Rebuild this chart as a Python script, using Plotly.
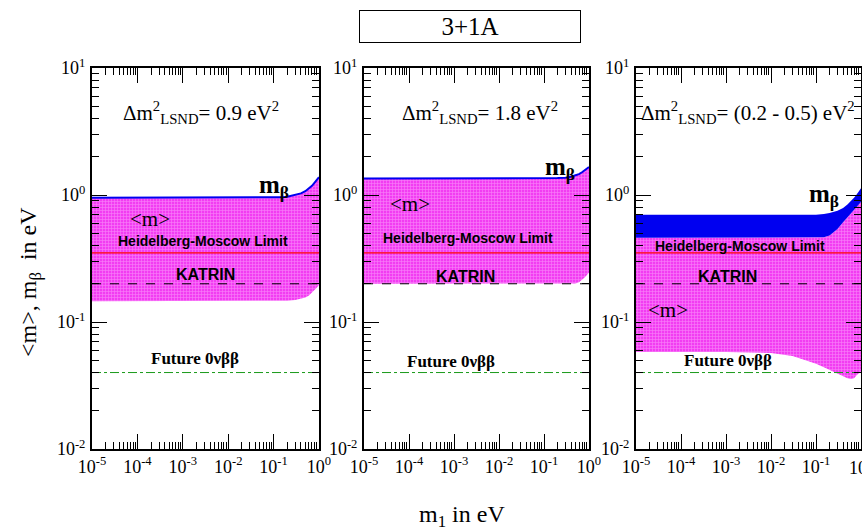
import plotly.graph_objects as go

# ---- data -------------------------------------------------------------
# lightest neutrino mass grid (eV)
m1_grid = [1e-5, 1e-4, 1e-3, 1e-2, 0.03, 0.05, 0.1, 0.15, 0.2, 0.3, 0.4,
           0.5, 0.6, 0.7, 0.8, 0.9, 1.0]

# panel A: dm2_LSND = 0.9 eV^2
mbeta_a = [0.95, 0.95, 0.95, 0.95, 0.95, 0.95, 0.955, 0.96, 0.97, 1.0, 1.03,
           1.07, 1.12, 1.18, 1.25, 1.31, 1.38]
mee_low_a = [0.146, 0.146, 0.146, 0.146, 0.146, 0.146, 0.146, 0.146, 0.147,
             0.149, 0.152, 0.156, 0.162, 0.170, 0.178, 0.187, 0.196]

# panel B: dm2_LSND = 1.8 eV^2
mbeta_b = [1.35, 1.35, 1.35, 1.35, 1.35, 1.35, 1.35, 1.355, 1.36, 1.37, 1.39,
           1.43, 1.46, 1.51, 1.56, 1.61, 1.66]
mee_low_b = [0.2, 0.2, 0.2, 0.2, 0.2, 0.2, 0.2, 0.2, 0.2, 0.2, 0.2,
             0.201, 0.206, 0.214, 0.224, 0.234, 0.245]

# panel C: dm2_LSND = (0.2 - 0.5) eV^2
mbeta_hi_c = [0.70, 0.70, 0.70, 0.70, 0.70, 0.70, 0.70, 0.71, 0.72, 0.75, 0.79,
              0.84, 0.89, 0.95, 1.01, 1.07, 1.13]
mbeta_lo_c = [0.46, 0.46, 0.46, 0.46, 0.46, 0.46, 0.46, 0.465, 0.48, 0.54, 0.61,
              0.67, 0.72, 0.77, 0.81, 0.85, 0.88]
mee_low_c = [0.058, 0.058, 0.058, 0.057, 0.054, 0.051, 0.047, 0.044, 0.042,
             0.039, 0.037, 0.036, 0.0355, 0.036, 0.038, 0.040, 0.041]

# experimental limits / sensitivities (eV)
hm_limit = 0.35
katrin_limit = 0.2
future_limit = 0.04
limit_x = [1e-5, 1.0]

x_tickvals = [1e-5, 1e-4, 1e-3, 1e-2, 1e-1, 1.0]
x_ticktext = ["10<sup>-5</sup>", "10<sup>-4</sup>", "10<sup>-3</sup>",
              "10<sup>-2</sup>", "10<sup>-1</sup>", "10<sup>0</sup>"]
y_tickvals = [1e-2, 1e-1, 1.0, 10.0]
y_ticktext = ["10<sup>-2</sup>", "10<sup>-1</sup>", "10<sup>0</sup>", "10<sup>1</sup>"]

panel_labels = ["0.9 eV<sup>2</sup>", "1.8 eV<sup>2</sup>", "(0.2 - 0.5) eV<sup>2</sup>"]

# ---- styling ----------------------------------------------------------
W, H = 862, 532
SERIF = "Liberation Serif"
SANS = "Liberation Sans"
MAGENTA = "#f23cf2"
BLUE = "#0000f0"
band_pattern = dict(shape="+", size=3, solidity=0.35, bgcolor=MAGENTA, fgcolor="#ffc8ff")

# pixel extents of the three panels
px_left = [92, 364, 636]
px_right = [319, 589, 861]
py_top, py_bottom = 68, 449

fig = go.Figure()


def ax(i):
    return ("x" if i == 0 else f"x{i + 1}"), ("y" if i == 0 else f"y{i + 1}")


def band(i, low, high, fillcolor, pattern=None):
    xa, ya = ax(i)
    fig.add_trace(go.Scatter(x=m1_grid, y=low, mode="lines", line=dict(width=0),
                             xaxis=xa, yaxis=ya, showlegend=False, hoverinfo="skip"))
    kw = dict(fillpattern=pattern) if pattern else {}
    fig.add_trace(go.Scatter(x=m1_grid, y=high, mode="lines", line=dict(width=0),
                             fill="tonexty", fillcolor=fillcolor, xaxis=xa, yaxis=ya,
                             showlegend=False, hoverinfo="skip", **kw))


def hline(i, value, color, dash, width=1):
    xa, ya = ax(i)
    fig.add_trace(go.Scatter(x=limit_x, y=[value, value], mode="lines",
                             line=dict(color=color, dash=dash, width=width),
                             xaxis=xa, yaxis=ya, showlegend=False, hoverinfo="skip"))


# <m> bands
band(0, mee_low_a, mbeta_a, MAGENTA, band_pattern)
band(1, mee_low_b, mbeta_b, MAGENTA, band_pattern)
band(2, mee_low_c, mbeta_lo_c, MAGENTA, band_pattern)
# m_beta band (panel C) and lines (panels A, B)
band(2, mbeta_lo_c, mbeta_hi_c, BLUE)
for i, mb in enumerate([mbeta_a, mbeta_b]):
    xa, ya = ax(i)
    fig.add_trace(go.Scatter(x=m1_grid, y=mb, mode="lines", line=dict(color=BLUE, width=2),
                             xaxis=xa, yaxis=ya, showlegend=False, hoverinfo="skip"))

for i in range(3):
    hline(i, hm_limit, "#ff0000", "solid", 1.2)
    hline(i, katrin_limit, "black", "dash", 1)
    hline(i, future_limit, "#1a9a1a", "dashdot", 1)

# ---- axes -------------------------------------------------------------
x_minor = [m * 10.0 ** e for e in range(-5, 0) for m in range(2, 10)]
y_minor = [m * 10.0 ** e for e in range(-2, 1) for m in range(2, 10)]
tickfont = dict(family=SERIF, size=18, color="black")

for i in range(3):
    xkey = "xaxis" if i == 0 else f"xaxis{i + 1}"
    ykey = "yaxis" if i == 0 else f"yaxis{i + 1}"
    xa, ya = ax(i)
    common = dict(type="log", tickmode="array", ticks="inside", ticklen=15, tickwidth=1,
                  tickcolor="black", showline=True, linecolor="black", linewidth=2,
                  mirror="ticks", showgrid=False, zeroline=False, tickfont=tickfont,
                  automargin=False)
    fig.update_layout({
        xkey: dict(range=[-5, 0], domain=[px_left[i] / W, px_right[i] / W], anchor=ya,
                   tickvals=x_tickvals, ticktext=x_ticktext, ticklabelstandoff=0,
                   minor=dict(tickmode="array", tickvals=x_minor, ticks="inside",
                              ticklen=7, tickwidth=1, tickcolor="black", showgrid=False),
                   **common),
        ykey: dict(range=[-2, 1], domain=[1 - py_bottom / H, 1 - py_top / H], anchor=xa,
                   tickvals=y_tickvals, ticktext=y_ticktext, ticklabelstandoff=1,
                   minor=dict(tickmode="array", tickvals=y_minor, ticks="inside",
                              ticklen=7, tickwidth=1, tickcolor="black", showgrid=False),
                   **common),
    })

# ---- text -------------------------------------------------------------
def px_note(i, px, py, text, font, **kw):
    # place text centred at a pixel position inside panel i
    xa, ya = ax(i)
    lx = -5 + 5 * (px - px_left[i]) / (px_right[i] - px_left[i])
    ly = 1 - 3 * (py - py_top) / (py_bottom - py_top)
    fig.add_annotation(x=lx, y=ly, xref=xa, yref=ya, text=text, showarrow=False,
                       xanchor="center", yanchor="middle", font=font, **kw)


f_delta = dict(family=SERIF, size=21, color="black")
f_mb = dict(family=SERIF, size=25, color="black")
f_m = dict(family=SERIF, size=21, color="black")
f_hm = dict(family=SANS, size=14, color="black")
f_kat = dict(family=SANS, size=16, color="black")
f_future = dict(family=SERIF, size=17, color="black")

delta_pos = [(201, 112), (480, 112), (748, 112)]
mb_pos = [(274, 186), (560, 168), (824, 195)]
m_pos = [(150, 219), (410, 204), (668, 310)]
hm_pos = [(203, 241), (468, 238), (740, 246)]
kat_pos = [(205, 274), (465, 276), (727, 276)]
fut_pos = [(195, 358), (451, 361), (728, 360)]

for i in range(3):
    px_note(i, *delta_pos[i], "Δm<sup>2</sup><sub>LSND</sub>= " + panel_labels[i], f_delta)
    px_note(i, *mb_pos[i], "<b>m<sub>β</sub></b>", f_mb)
    px_note(i, *m_pos[i], "&lt;m&gt;", f_m)
    px_note(i, *hm_pos[i], "<b>Heidelberg-Moscow Limit</b>", f_hm)
    px_note(i, *kat_pos[i], "<b>KATRIN</b>", f_kat)
    px_note(i, *fut_pos[i], "<b>Future 0νββ</b>", f_future)

# last x tick label of the right panel runs off the page edge
fig.add_annotation(x=0, y=1 - 466 / H, xref="x3", yref="paper", text=x_ticktext[-1],
                   showarrow=False, xanchor="center", yanchor="middle", font=tickfont)

# title box
fig.add_annotation(x=469.5 / W, y=1 - 26 / H, xref="paper", yref="paper", text="3+1A",
                   showarrow=False, xanchor="center", yanchor="middle",
                   font=dict(family=SERIF, size=25, color="black"),
                   bordercolor="black", borderwidth=1, width=218, height=29,
                   bgcolor="white", borderpad=1)
# axis titles
fig.add_annotation(x=462 / W, y=1 - 516 / H, xref="paper", yref="paper",
                   text="m<sub>1</sub> in eV", showarrow=False,
                   xanchor="center", yanchor="middle",
                   font=dict(family=SERIF, size=24, color="black"))
fig.add_annotation(x=30 / W, y=1 - 282 / H, xref="paper", yref="paper",
                   text="&lt;m&gt;, m<sub>β</sub>  in eV", showarrow=False, textangle=-90,
                   xanchor="center", yanchor="middle",
                   font=dict(family=SERIF, size=24, color="black"))

fig.update_layout(width=W, height=H, margin=dict(l=0, r=0, t=0, b=0),
                  font=dict(family=SERIF, size=18, color="black"),
                  paper_bgcolor="white", plot_bgcolor="white", showlegend=False)

fig.write_html("out.html")
